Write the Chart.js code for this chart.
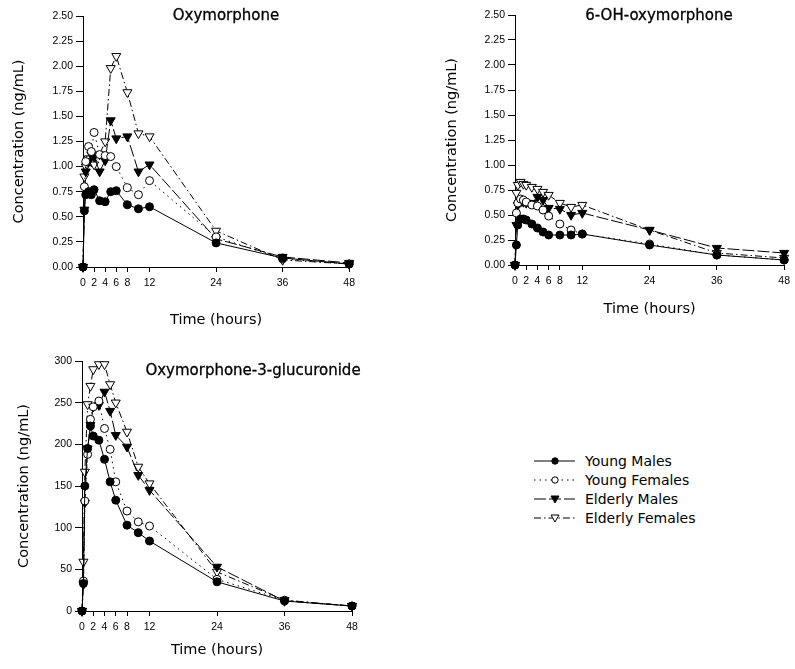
<!DOCTYPE html>
<html>
<head>
<meta charset="utf-8">
<script src="https://cdn.jsdelivr.net/npm/chart.js@4.4.1/dist/chart.umd.min.js"></script>
<style>
  body { margin: 0; background: #fff; width: 795px; height: 669px; position: relative; overflow: hidden; font-family: "DejaVu Sans", sans-serif; color: #000; }
  .panel { position: absolute; }
  .ptitle { position: absolute; font-size: 15px; white-space: nowrap; transform: translate(-50%, -50%); -webkit-text-stroke: 0.3px #000; }
  .lrow { position: absolute; left: 533px; height: 18px; display: flex; align-items: center; font-size: 14px; white-space: nowrap; }
  .lrow svg { margin-right: 9px; }
</style>
</head>
<body>
<div class="panel" style="left:0;top:0;width:360px;height:335px"><canvas id="oxyChart"></canvas></div>
<div class="panel" style="left:420px;top:0;width:375px;height:335px"><canvas id="ohChart"></canvas></div>
<div class="panel" style="left:0;top:340px;width:370px;height:329px"><canvas id="glucChart"></canvas></div>

<div class="ptitle" style="left:226px;top:15px">Oxymorphone</div>
<div class="ptitle" style="left:659px;top:15px">6-OH-oxymorphone</div>
<div class="ptitle" style="left:253px;top:370px">Oxymorphone-3-glucuronide</div>

<div id="legend"></div>

<script>
// sampling times (hours) and x-axis tick positions
const hours = [0, 0.25, 0.5, 1, 1.5, 2, 3, 4, 5, 6, 8, 10, 12, 24, 36, 48];
const timeTicks = [0, 2, 4, 6, 8, 12, 24, 36, 48];
const groups = ['Young Males', 'Young Females', 'Elderly Males', 'Elderly Females'];

// Oxymorphone (ng/mL)
const oxyYoungMales     = [0, 0.56, 0.72, 0.75, 0.72, 0.77, 0.66, 0.65, 0.75, 0.76, 0.62, 0.58, 0.60, 0.24, 0.09, 0.03];
const oxyYoungFemales   = [0, 0.80, 1.05, 1.20, 1.15, 1.34, 1.12, 1.11, 1.10, 1.00, 0.79, 0.72, 0.86, 0.30, 0.08, 0.03];
const oxyElderlyMales   = [0, 0.57, 0.95, 1.05, 1.12, 1.10, 0.95, 1.06, 1.46, 1.28, 1.30, 0.95, 1.02, 0.28, 0.10, 0.04];
const oxyElderlyFemales = [0, 0.90, 1.00, 1.08, 1.05, 1.02, 1.12, 1.25, 1.98, 2.10, 1.74, 1.33, 1.30, 0.36, 0.07, 0.03];

// 6-OH-oxymorphone (ng/mL)
const ohYoungMales     = [0, 0.20, 0.40, 0.46, 0.46, 0.45, 0.41, 0.37, 0.33, 0.30, 0.30, 0.30, 0.31, 0.20, 0.10, 0.05];
const ohYoungFemales   = [0, 0.52, 0.62, 0.66, 0.65, 0.63, 0.60, 0.59, 0.55, 0.49, 0.41, 0.35, 0.31, 0.21, 0.10, 0.05];
const ohElderlyMales   = [0, 0.40, 0.60, 0.63, 0.63, 0.62, 0.62, 0.68, 0.65, 0.57, 0.56, 0.50, 0.52, 0.35, 0.17, 0.12];
const ohElderlyFemales = [0, 0.72, 0.80, 0.83, 0.81, 0.80, 0.78, 0.76, 0.73, 0.70, 0.62, 0.58, 0.60, 0.35, 0.12, 0.07];

// Oxymorphone-3-glucuronide (ng/mL)
const glucYoungMales     = [0, 33, 150, 195, 222, 210, 205, 182, 155, 133, 103, 94, 84, 35, 12, 6];
const glucYoungFemales   = [0, 36, 132, 188, 230, 245, 252, 219, 194, 155, 120, 107, 102, 38, 13, 6];
const glucElderlyMales   = [0, 32, 130, 195, 223, 245, 247, 263, 240, 211, 197, 163, 145, 53, 12, 6];
const glucElderlyFemales = [0, 59, 167, 248, 270, 290, 296, 296, 272, 250, 215, 173, 153, 47, 13, 6];

const groupStyles = [
    { shape: 'circle',   rotation: 0,   radius: 4,   fill: '#000', dash: [] },
    { shape: 'circle',   rotation: 0,   radius: 4,   fill: '#fff', dash: [1.5, 4] },
    { shape: 'triangle', rotation: 180, radius: 5.2, fill: '#000', dash: [12, 3] },
    { shape: 'triangle', rotation: 180, radius: 5.2, fill: '#fff', dash: [7, 3, 1.5, 3] },
];

const tickFont = { family: '"Liberation Sans", Arial, sans-serif', size: 10.5 };
const titleFont = { family: '"DejaVu Sans", sans-serif', size: 14.5 };

function makePanel(canvasId, series, yMax, yStep, decimals, g) {
    return new Chart(document.getElementById(canvasId), {
        type: 'line',
        data: {
            datasets: series.map((vals, i) => {
                const st = groupStyles[i];
                return {
                    label: groups[i],
                    data: hours.map((h, j) => ({ x: h, y: vals[j] })),
                    borderColor: '#000',
                    borderWidth: 1,
                    borderDash: st.dash,
                    pointStyle: st.shape,
                    pointRotation: st.rotation,
                    pointRadius: st.radius,
                    pointBackgroundColor: st.fill,
                    pointBorderColor: '#000',
                    pointBorderWidth: 1,
                    tension: 0,
                    clip: false
                };
            })
        },
        options: {
            responsive: true,
            maintainAspectRatio: false,
            animation: false,
            layout: { padding: { top: g.top, right: g.right, left: 0, bottom: 0 } },
            plugins: { legend: { display: false }, tooltip: { enabled: false } },
            scales: {
                x: {
                    type: 'linear', min: 0, max: 48,
                    afterBuildTicks: s => { s.ticks = timeTicks.map(v => ({ value: v })); },
                    afterFit: s => { s.height = g.xh; },
                    ticks: { autoSkip: false, maxRotation: 0, padding: 5, font: tickFont, color: '#000' },
                    grid: { drawOnChartArea: false, tickLength: 5, color: '#000' },
                    border: { color: '#000', width: 1 },
                    title: { display: true, text: 'Time (hours)', font: titleFont, color: '#000', padding: { top: 0, bottom: g.xtPad } }
                },
                y: {
                    min: 0, max: yMax,
                    afterFit: s => { s.width = g.yw; },
                    ticks: { stepSize: yStep, padding: 3, font: tickFont, color: '#000', callback: v => v.toFixed(decimals) },
                    grid: { drawOnChartArea: false, tickLength: 7, color: '#000' },
                    border: { color: '#000', width: 1 },
                    title: { display: true, text: 'Concentration (ng/mL)', font: titleFont, color: '#000', padding: { top: g.ytPad, bottom: 0 } }
                }
            }
        }
    });
}

makePanel('oxyChart',
    [oxyYoungMales, oxyYoungFemales, oxyElderlyMales, oxyElderlyFemales],
    2.5, 0.25, 2, { top: 16, right: 10, yw: 83, xh: 68, xtPad: 6, ytPad: 11 });

makePanel('ohChart',
    [ohYoungMales, ohYoungFemales, ohElderlyMales, ohElderlyFemales],
    2.5, 0.25, 2, { top: 15, right: 8, yw: 95, xh: 70, xtPad: 17, ytPad: 24 });

makePanel('glucChart',
    [glucYoungMales, glucYoungFemales, glucElderlyMales, glucElderlyFemales],
    300, 50, 0, { top: 21, right: 18, yw: 82, xh: 58, xtPad: 10, ytPad: 16 });

// legend: line sample with marker, then group name
const legendRowsY = [461, 480, 499, 518];
const legendBox = document.getElementById('legend');
groups.forEach((name, i) => {
    const st = groupStyles[i];
    const dash = st.dash.length ? st.dash.join(' ') : 'none';
    let marker;
    if (st.shape === 'circle') {
        marker = `<circle cx="22" cy="6" r="3.2" fill="${st.fill}" stroke="#000" stroke-width="1"/>`;
    } else {
        marker = `<polygon points="18,3 26,3 22,10" fill="${st.fill}" stroke="#000" stroke-width="1"/>`;
    }
    const row = document.createElement('div');
    row.className = 'lrow';
    row.style.top = (legendRowsY[i] - 9) + 'px';
    row.innerHTML = `<svg width="43" height="12"><line x1="1" y1="6" x2="42" y2="6" stroke="#000" stroke-width="1" stroke-dasharray="${dash}"/>${marker}</svg><span>${name}</span>`;
    legendBox.appendChild(row);
});
</script>
</body>
</html>
